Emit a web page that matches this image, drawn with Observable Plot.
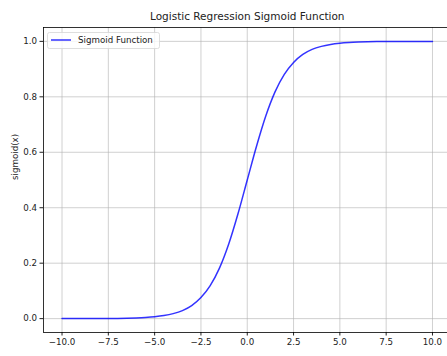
<!DOCTYPE html>
<html>
<head>
<meta charset="utf-8">
<script src="https://cdn.jsdelivr.net/npm/d3@7"></script>
<script src="https://cdn.jsdelivr.net/npm/@observablehq/plot@0.6"></script>
<style>
  html, body { margin: 0; padding: 0; background: white; }
  svg { display: block; }
</style>
</head>
<body>
<div id="chart"></div>
<script>
const title = "Logistic Regression Sigmoid Function";
const seriesName = "Sigmoid Function";
const xLabel = "x";
const yLabel = "sigmoid(x)";
const xTicks = [-10, -7.5, -5, -2.5, 0, 2.5, 5, 7.5, 10];
const yTicks = [0, 0.2, 0.4, 0.6, 0.8, 1.0];
const xs = [-10, -9.5, -9, -8.5, -8, -7.5, -7, -6.5, -6, -5.5, -5, -4.5, -4, -3.5, -3, -2.5, -2, -1.5, -1, -0.5,
            0, 0.5, 1, 1.5, 2, 2.5, 3, 3.5, 4, 4.5, 5, 5.5, 6, 6.5, 7, 7.5, 8, 8.5, 9, 9.5, 10];
const ys = [0.00005, 0.00007, 0.00012, 0.0002, 0.00034, 0.00055, 0.0009, 0.0015, 0.0025, 0.0041, 0.0067, 0.011, 0.018, 0.029, 0.047, 0.076, 0.119, 0.182, 0.269, 0.378,
            0.500, 0.622, 0.731, 0.818, 0.881, 0.924, 0.953, 0.971, 0.982, 0.989, 0.9933, 0.9959, 0.9975, 0.9985, 0.9991, 0.99945, 0.99966, 0.9998, 0.99988, 0.99993, 0.99995];

const data = xs.map((x, i) => ({x, y: ys[i]}));
const font = "DejaVu Sans, sans-serif";

const plot = Plot.plot({
  width: 447,
  height: 356,
  marginLeft: 43,
  marginRight: -3.5,
  marginTop: 27,
  marginBottom: 24,
  style: {fontFamily: font, fontSize: "8.7px", color: "#222", background: "white", overflow: "hidden"},
  x: {domain: [-11, 11], ticks: xTicks, tickFormat: d3.format(".1f"), label: null, tickSize: 3.5, tickPadding: 3},
  y: {domain: [-0.05, 1.05], ticks: yTicks, tickFormat: d3.format(".1f"), label: null, tickSize: 3.5, tickPadding: 3},
  marks: [
    Plot.gridX(xTicks, {stroke: "#b0b0b0", strokeOpacity: 0.75, strokeWidth: 0.8}),
    Plot.gridY(yTicks, {stroke: "#b0b0b0", strokeOpacity: 0.75, strokeWidth: 0.8}),
    Plot.line(data, {x: "x", y: "y", stroke: "blue", strokeOpacity: 0.8, strokeWidth: 1.5, curve: "monotone-x"}),
    Plot.frame({stroke: "black", strokeWidth: 0.8}),
    Plot.text([title], {frameAnchor: "top", dy: -8, fontSize: 10.5, fill: "#222", lineAnchor: "bottom"}),
    Plot.text([xLabel], {frameAnchor: "bottom", dy: 22, fill: "#222", lineAnchor: "top"}),
    Plot.text([yLabel], {frameAnchor: "left", dx: -28, rotate: -90, fill: "#222", lineAnchor: "middle"})
  ]
});

const svg = d3.select(plot);
const lg = svg.append("g");
lg.append("rect").attr("x", 47.5).attr("y", 32.5).attr("width", 112).attr("height", 16)
  .attr("rx", 2).attr("fill", "white").attr("fill-opacity", 0.8).attr("stroke", "#d5d5d5").attr("stroke-width", 0.8);
lg.append("line").attr("x1", 51).attr("x2", 71).attr("y1", 40).attr("y2", 40)
  .attr("stroke", "blue").attr("stroke-opacity", 0.8).attr("stroke-width", 1.5);
lg.append("text").attr("x", 78).attr("y", 40).attr("dy", "0.35em").attr("text-anchor", "start")
  .attr("font-size", "8.7px").attr("fill", "#222").attr("font-family", font).text(seriesName);

document.getElementById("chart").appendChild(plot);
</script>
</body>
</html>
